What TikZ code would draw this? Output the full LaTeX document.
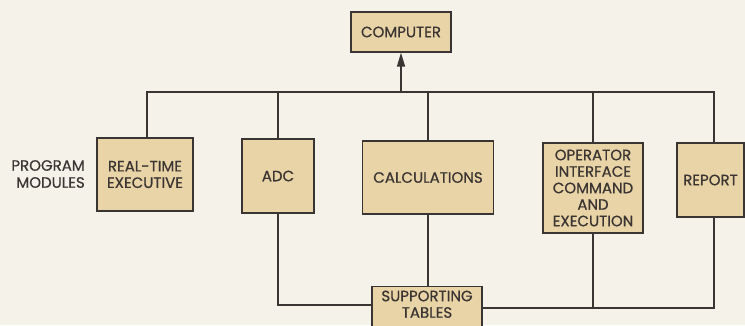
\documentclass[tikz,border=0pt]{standalone}
\usepackage{fontspec}
\setmainfont{Poppins}[UprightFeatures={FakeBold=0.6}]
\usetikzlibrary{arrows.meta}
\definecolor{paper}{RGB}{245,242,234}
\definecolor{tan}{RGB}{232,212,166}
\definecolor{ink}{RGB}{58,52,50}
\tikzset{
  box/.style={draw=ink, line width=1.3pt, fill=tan, text=ink, align=center, inner sep=1pt,
    font=\fontsize{15}{16.5}\selectfont},
  conn/.style={draw=ink, line width=1.6pt},
  lbl/.style={text=ink, align=right, inner sep=0pt, font=\fontsize{15}{17}\selectfont}
}
\begin{document}
\begin{tikzpicture}[x={(1pt,0)}, y={(0,-1pt)}]
\useasboundingbox[fill=paper] (0,0) rectangle (745,325);
\node[box, minimum width=100pt, minimum height=40pt] (comp) at (401,32) {COMPUTER};
\node[box, minimum width=96pt, minimum height=73pt] (rt) at (145,174.5) {REAL-TIME\\EXECUTIVE};
\node[box, minimum width=72pt, minimum height=74pt] (adc) at (278,176) {ADC};
\node[box, minimum width=131pt, minimum height=73pt] (calc) at (428,177.5) {CALCULATIONS};
\node[box, minimum width=100pt, minimum height=90pt] (op) at (593,188) {OPERATOR\\INTERFACE\\COMMAND\\AND\\EXECUTION};
\node[box, minimum width=67pt, minimum height=74pt] (rep) at (710.5,180) {REPORT};
\node[box, minimum width=110pt, anchor=north, inner ysep=4pt] (tab) at (427,286) {SUPPORTING\\TABLES\rule[-14pt]{0pt}{14pt}};
\node[lbl, anchor=east] (pm) at (85,174) {PROGRAM\\MODULES};
\coordinate (bl) at (147,92);
\coordinate (br) at (714,92);
\coordinate (tl) at (tab.north west |- 0,305);
\coordinate (tr) at (tab.north east |- 0,308);
% top bus
\draw[conn] ([xshift=2pt]rt.north) -- ([xshift=2pt]rt.north |- bl) -- (br) -- ([xshift=3.5pt]rep.north);
\draw[conn] (adc.north) -- (adc.north |- bl);
\draw[conn] (calc.north) -- (calc.north |- bl);
\draw[conn] (op.north) -- (op.north |- bl);
\draw[conn, -{Triangle[width=8pt,length=14pt]}] (comp.south |- bl) -- (comp.south);
% bottom
\draw[conn] (adc.south) |- (tl);
\draw[conn] (calc.south) -- (calc.south |- tab.north);
\draw[conn] (tr) -| ([xshift=3.5pt]rep.south);
\draw[conn] (op.south) -- (op.south |- tr);
\end{tikzpicture}
\end{document}
